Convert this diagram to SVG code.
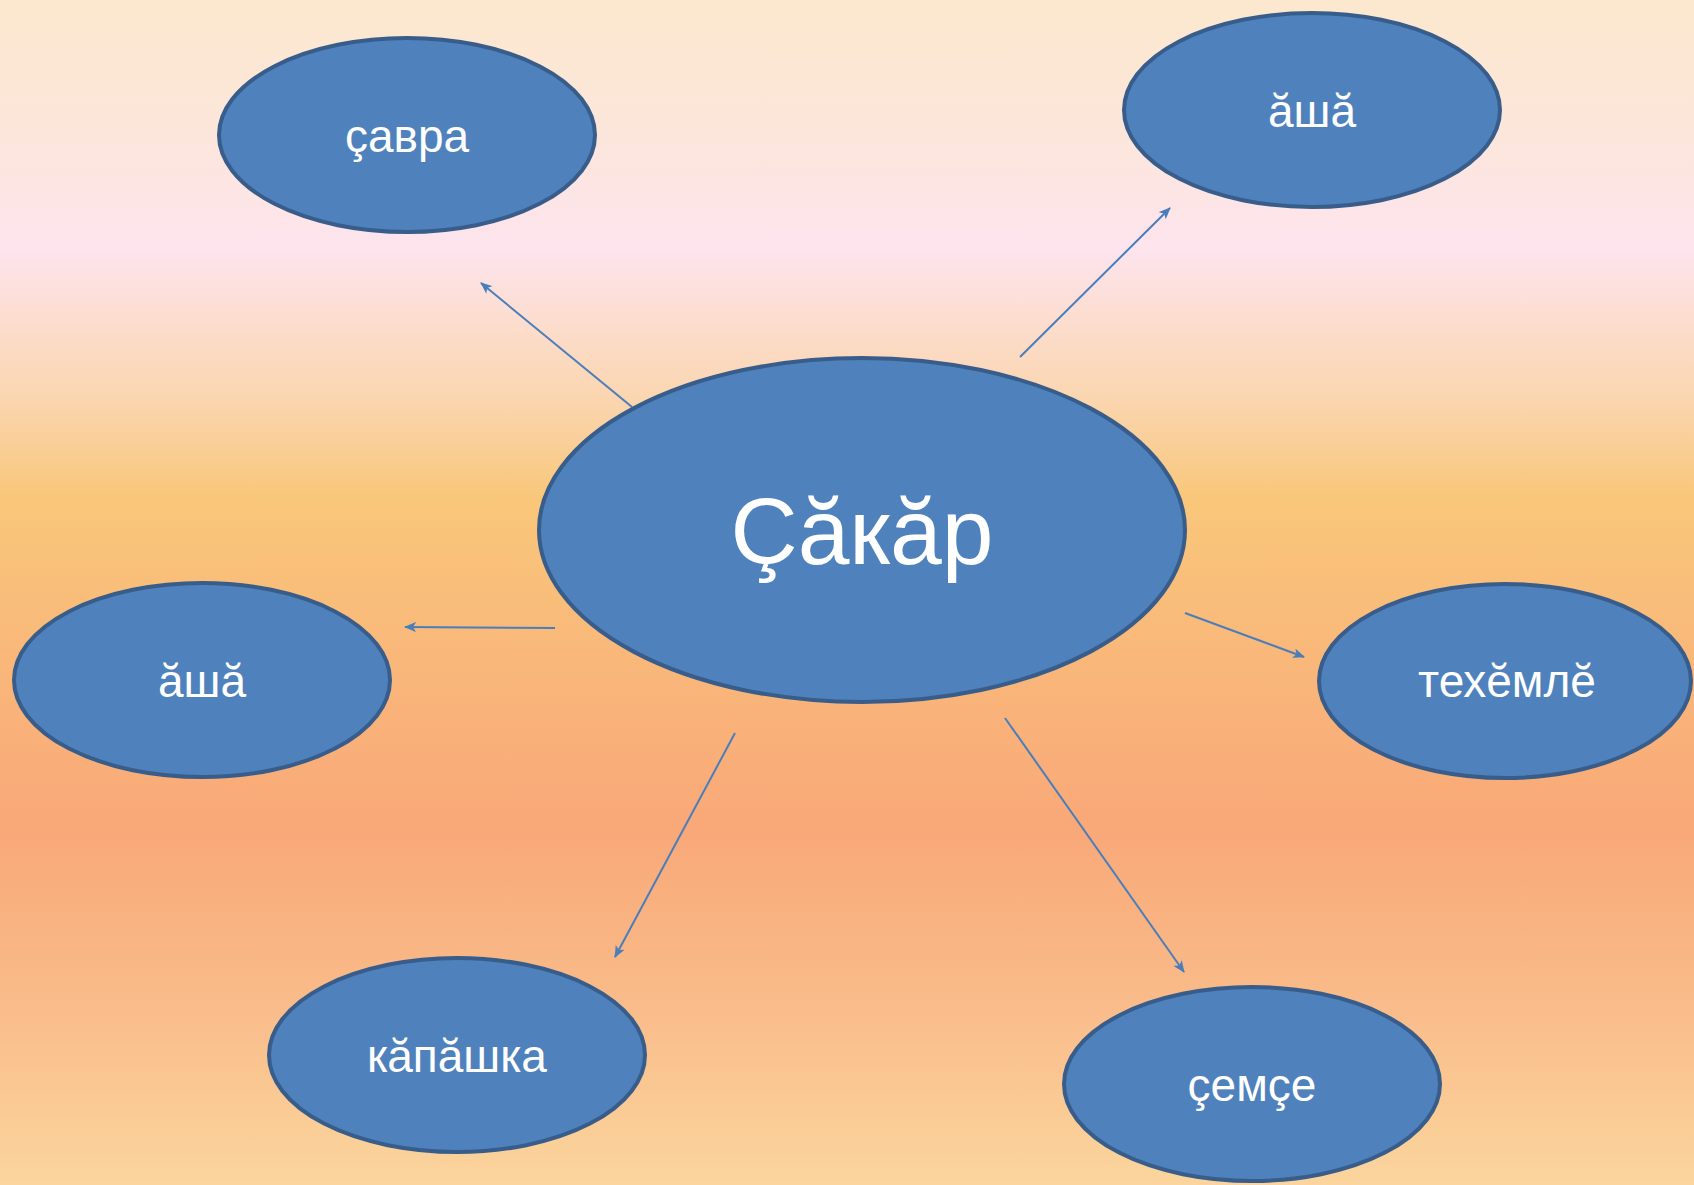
<svg xmlns="http://www.w3.org/2000/svg" width="1694" height="1185" viewBox="0 0 1694 1185">
  <defs>
    <linearGradient id="bg" x1="0" y1="0" x2="0" y2="1">
      <stop offset="0" stop-color="#FCE8CE"/>
      <stop offset="0.12" stop-color="#FCE6DC"/>
      <stop offset="0.21" stop-color="#FDE4EE"/>
      <stop offset="0.28" stop-color="#FCDCCA"/>
      <stop offset="0.34" stop-color="#FAD5AE"/>
      <stop offset="0.42" stop-color="#F9C77A"/>
      <stop offset="0.55" stop-color="#F9B87A"/>
      <stop offset="0.70" stop-color="#F9A878"/>
      <stop offset="0.85" stop-color="#F9BC8A"/>
      <stop offset="1" stop-color="#FBD59D"/>
    </linearGradient>
    <marker id="arr" markerUnits="userSpaceOnUse" viewBox="0 0 12 10" markerWidth="12" markerHeight="10" refX="11" refY="5" orient="auto">
      <path d="M0,0 L12,5 L0,10 L3,5 z" fill="#4A7EBB"/>
    </marker>
  </defs>
  <style>
    .node ellipse { fill: #4F81BD; stroke: #385D8A; stroke-width: 4; }
    .node text { fill: #FFFFFF; font-family: "Liberation Sans", Arial, sans-serif; text-anchor: middle; }
    .lbl { font-size: 46px; }
    .big { font-size: 93px; }
    #connectors line { stroke: #4A7EBB; stroke-width: 2; marker-end: url(#arr); }
  </style>
  <rect x="0" y="0" width="1694" height="1185" fill="url(#bg)"/>
  <g id="connectors">
    <line x1="632" y1="407" x2="481" y2="283"/>
    <line x1="1020" y1="357" x2="1170" y2="208"/>
    <line x1="555" y1="628" x2="405" y2="627"/>
    <line x1="1185" y1="613" x2="1304" y2="657"/>
    <line x1="735" y1="733" x2="615" y2="957"/>
    <line x1="1005" y1="718" x2="1184" y2="972"/>
  </g>
  <g id="node-center" class="node">
    <ellipse cx="862" cy="530" rx="323" ry="172"/>
    <text class="big" x="862" y="564">Çăкăр</text>
  </g>
  <g id="node-savra" class="node">
    <ellipse cx="407" cy="135" rx="188" ry="97"/>
    <text class="lbl" x="407" y="152">çавра</text>
  </g>
  <g id="node-asha-top" class="node">
    <ellipse cx="1312" cy="110" rx="188" ry="97"/>
    <text class="lbl" x="1312" y="127">ăшă</text>
  </g>
  <g id="node-asha-left" class="node">
    <ellipse cx="202" cy="680" rx="188" ry="97"/>
    <text class="lbl" x="202" y="697">ăшă</text>
  </g>
  <g id="node-tekhemle" class="node">
    <ellipse cx="1505" cy="681" rx="186" ry="97"/>
    <text class="lbl" x="1507" y="697">техĕмлĕ</text>
  </g>
  <g id="node-kapashka" class="node">
    <ellipse cx="457" cy="1055" rx="188" ry="97"/>
    <text class="lbl" x="457" y="1072">кăпăшка</text>
  </g>
  <g id="node-semse" class="node">
    <ellipse cx="1252" cy="1084" rx="188" ry="97"/>
    <text class="lbl" x="1252" y="1101">çемçе</text>
  </g>
</svg>
